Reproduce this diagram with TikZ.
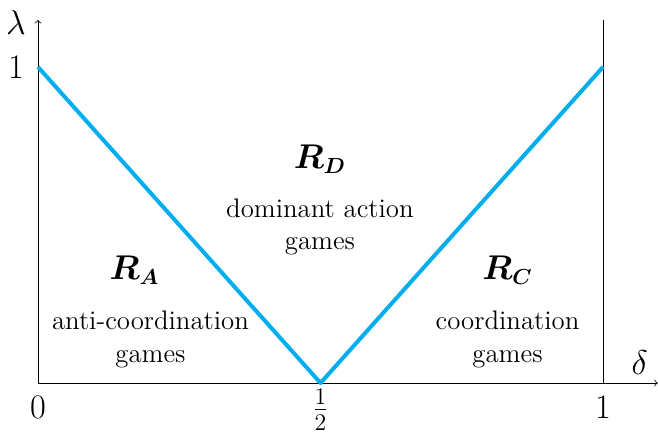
\documentclass[tikz,border=0pt]{standalone}
\usepackage{amsmath,amssymb,bm}
\usepackage{tikz}
\usetikzlibrary{positioning}
\definecolor{bdry}{RGB}{0,174,239}
\tikzset{region/.style={font=\fontsize{16}{19}\selectfont},
  descr/.style={align=center,font=\fontsize{13.5}{16.5}\selectfont},
  axlab/.style={font=\fontsize{17}{20}\selectfont}}

\begin{document}
\begin{tikzpicture}[x=10cm,y=5.593cm,line join=round]
\useasboundingbox (-0.0673,-0.161) rectangle (1.0973,1.212);
% --- axes
\coordinate (O) at (0,0);
\coordinate (xend) at (1.097,0);
\coordinate (yend) at (0,1.149);
\coordinate (one) at (1,0);
\coordinate (onetop) at (1,1.149);
\draw[->] (O) -- (xend);
\draw[->] (O) -- (yend);
\draw (one) -- (onetop);
\node[axlab] (lx) at (1.065,0.066) {$\delta$};
\node[axlab] (ly) at (-0.039,1.142) {$\lambda$};
\node[axlab] (t0) at (0,-0.076) {$0$};
\node[axlab] (thalf) at (0.5,-0.085) {$\tfrac{1}{2}$};
\node[axlab] (t1) at (1,-0.076) {$1$};
\node[axlab] (ty1) at (-0.039,1) {$1$};
% --- boundaries
\coordinate (A) at (0,1);
\coordinate (M) at (0.5,0);
\coordinate (B) at (1,1);
\draw[bdry,line width=2pt] (A) -- (M) -- (B);
% --- regions
\node[region] (RA) at (0.171,0.357) {$\boldsymbol{R_A}$};
\node[descr] (dA) at (0.199,0.139) {anti-coordination\\games};
\node[region] (RD) at (0.499,0.709) {$\boldsymbol{R_D}$};
\node[descr] (dD) at (0.499,0.494) {dominant action\\games};
\node[region] (RC) at (0.831,0.357) {$\boldsymbol{R_C}$};
\node[descr] (dC) at (0.831,0.139) {coordination\\games};
\end{tikzpicture}
\end{document}
